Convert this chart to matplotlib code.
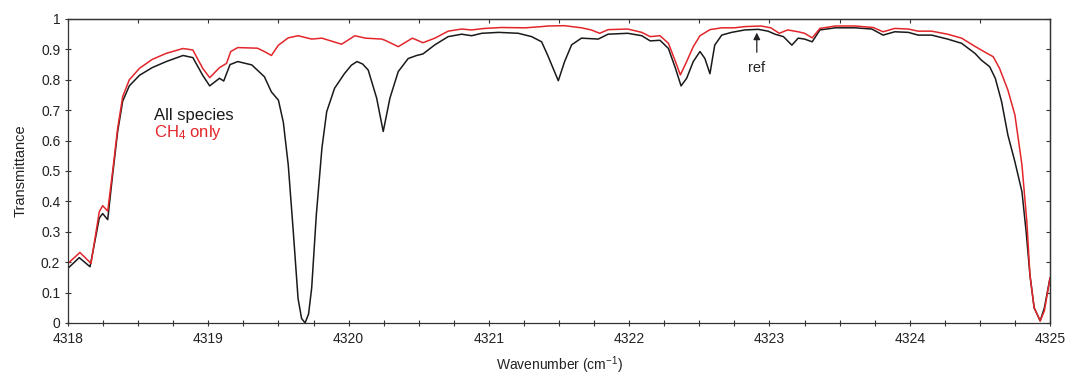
import matplotlib
matplotlib.use("Agg")
import matplotlib.pyplot as plt
from matplotlib.ticker import MultipleLocator, FuncFormatter


# wavenumber (cm-1) and transmittance
ALL_WN = [
    4318.00, 4318.08, 4318.157, 4318.223, 4318.247, 4318.283, 4318.318,
    4318.354, 4318.39, 4318.437, 4318.51, 4318.60, 4318.70, 4318.82,
    4318.89, 4318.96, 4319.01, 4319.08, 4319.11, 4319.155, 4319.21,
    4319.31, 4319.40, 4319.45, 4319.50, 4319.535, 4319.57, 4319.606,
    4319.64, 4319.665, 4319.69, 4319.715, 4319.737, 4319.77, 4319.81,
    4319.844, 4319.90, 4319.97, 4320.02, 4320.06, 4320.10, 4320.14,
    4320.20, 4320.247, 4320.295, 4320.354, 4320.425, 4320.485, 4320.53,
    4320.615, 4320.71, 4320.806, 4320.877, 4320.95, 4321.07, 4321.21,
    4321.305, 4321.376, 4321.42, 4321.447, 4321.495, 4321.54, 4321.59,
    4321.66, 4321.78, 4321.85, 4321.99, 4322.09, 4322.15, 4322.22,
    4322.28, 4322.33, 4322.37, 4322.41, 4322.457, 4322.505, 4322.54,
    4322.576, 4322.61, 4322.66, 4322.73, 4322.825, 4322.92, 4322.99,
    4323.04, 4323.10, 4323.16, 4323.205, 4323.25, 4323.305, 4323.36,
    4323.47, 4323.61, 4323.73, 4323.81, 4323.894, 4323.99, 4324.06,
    4324.156, 4324.27, 4324.37, 4324.465, 4324.51, 4324.57, 4324.61,
    4324.655, 4324.70, 4324.75, 4324.80, 4324.83, 4324.857, 4324.887,
    4324.93, 4324.96, 4325.00,
]
ALL_T = [
    0.18, 0.215, 0.185, 0.345, 0.36, 0.34, 0.487,
    0.63, 0.73, 0.78, 0.815, 0.84, 0.86, 0.88,
    0.873, 0.815, 0.78, 0.805, 0.796, 0.85, 0.86,
    0.849, 0.81, 0.76, 0.733, 0.66, 0.52, 0.30,
    0.08, 0.015, 0.0, 0.03, 0.115, 0.355, 0.575,
    0.695, 0.772, 0.82, 0.848, 0.86, 0.852, 0.832,
    0.74, 0.63, 0.74, 0.827, 0.87, 0.88, 0.885,
    0.915, 0.942, 0.95, 0.945, 0.953, 0.956, 0.953,
    0.942, 0.925, 0.88, 0.85, 0.797, 0.86, 0.915,
    0.937, 0.934, 0.95, 0.953, 0.945, 0.928, 0.93,
    0.903, 0.838, 0.78, 0.805, 0.86, 0.893, 0.87,
    0.82, 0.914, 0.947, 0.956, 0.964, 0.966, 0.96,
    0.95, 0.942, 0.914, 0.937, 0.934, 0.925, 0.964,
    0.971, 0.971, 0.967, 0.947, 0.958, 0.956, 0.947,
    0.947, 0.934, 0.92, 0.887, 0.865, 0.843, 0.805,
    0.728, 0.618, 0.53, 0.432, 0.30, 0.158, 0.05,
    0.007, 0.05, 0.148,
]

CH4_WN = [
    4318.00, 4318.085, 4318.164, 4318.223, 4318.247, 4318.283, 4318.318,
    4318.354, 4318.39, 4318.437, 4318.51, 4318.60, 4318.70, 4318.82,
    4318.89, 4318.96, 4319.01, 4319.08, 4319.13, 4319.16, 4319.21,
    4319.35, 4319.40, 4319.45, 4319.50, 4319.57, 4319.64, 4319.737,
    4319.81, 4319.95, 4320.045, 4320.12, 4320.235, 4320.26, 4320.354,
    4320.455, 4320.53, 4320.615, 4320.71, 4320.806, 4320.877, 4320.97,
    4321.09, 4321.26, 4321.376, 4321.42, 4321.54, 4321.66, 4321.73,
    4321.79, 4321.85, 4321.99, 4322.09, 4322.15, 4322.22, 4322.28,
    4322.33, 4322.365, 4322.41, 4322.457, 4322.505, 4322.576, 4322.66,
    4322.75, 4322.825, 4322.94, 4323.01, 4323.07, 4323.13, 4323.205,
    4323.25, 4323.305, 4323.36, 4323.47, 4323.61, 4323.74, 4323.81,
    4323.894, 4323.99, 4324.06, 4324.156, 4324.27, 4324.37, 4324.465,
    4324.54, 4324.595, 4324.64, 4324.70, 4324.75, 4324.80, 4324.835,
    4324.857, 4324.887, 4324.93, 4324.96, 4325.00,
]
CH4_T = [
    0.196, 0.232, 0.196, 0.366, 0.386, 0.368, 0.498,
    0.64, 0.745, 0.80, 0.838, 0.867, 0.887, 0.903,
    0.898, 0.838, 0.807, 0.84, 0.854, 0.893, 0.906,
    0.904, 0.893, 0.88, 0.914, 0.938, 0.945, 0.934,
    0.937, 0.917, 0.945, 0.937, 0.934, 0.93, 0.909,
    0.937, 0.922, 0.937, 0.96, 0.967, 0.964, 0.969,
    0.972, 0.971, 0.975, 0.977, 0.978, 0.971, 0.964,
    0.953, 0.965, 0.967, 0.956, 0.942, 0.945, 0.92,
    0.86, 0.816, 0.86, 0.909, 0.945, 0.965, 0.971,
    0.971, 0.975, 0.977, 0.971, 0.953, 0.964, 0.958,
    0.953, 0.938, 0.969, 0.977, 0.977, 0.972, 0.958,
    0.969, 0.967, 0.96, 0.96, 0.95, 0.937, 0.91,
    0.89, 0.876, 0.838, 0.766, 0.684, 0.52, 0.333,
    0.158, 0.05, 0.007, 0.04, 0.148,
]

SERIES_LABELS = ["All species", "CH$_4$ only"]
REF_WN = 4322.91

BLACK = "#1a1a1a"
RED = "#e3262b"

plt.rcParams["font.family"] = ["Liberation Sans", "DejaVu Sans"]
plt.rcParams["mathtext.fontset"] = "custom"
plt.rcParams["mathtext.rm"] = "Liberation Sans"
plt.rcParams["mathtext.default"] = "regular"

fig = plt.figure(figsize=(10.70, 3.76), dpi=100)
ax = fig.add_axes([68 / 1070, 1 - 323 / 376, 982 / 1070, 304 / 376])

ax.plot(ALL_WN, ALL_T, color=BLACK, lw=1.1)
ax.plot(CH4_WN, CH4_T, color=RED, lw=1.1)

ax.set_xlim(4318, 4325)
ax.set_ylim(0, 1)

# bottom / left ticks cross the axis line
ax.xaxis.set_major_locator(MultipleLocator(1))
ax.xaxis.set_minor_locator(MultipleLocator(0.25))
ax.yaxis.set_major_locator(MultipleLocator(0.1))
ax.yaxis.set_major_formatter(FuncFormatter(lambda v, p: "%g" % round(v, 1)))
ax.tick_params(axis="both", which="both", direction="inout", length=5,
               width=0.8, color="#333333", labelsize=10, labelcolor="#222222")
ax.tick_params(axis="x", which="major", pad=4)
ax.tick_params(axis="y", which="major", pad=3)

# top and right: inward ticks only
top = ax.secondary_xaxis("top")
top.xaxis.set_major_locator(MultipleLocator(0.5))
top.tick_params(direction="in", length=3, width=0.8, color="#333333",
                labeltop=False)
right = ax.secondary_yaxis("right")
right.yaxis.set_major_locator(MultipleLocator(0.1))
right.tick_params(direction="in", length=3, width=0.8, color="#333333",
                  labelright=False)

for sp in list(ax.spines.values()) + [top.spines["top"], right.spines["right"]]:
    sp.set_color("#333333")
    sp.set_linewidth(0.9)

ax.set_xlabel("Wavenumber (cm$^{-1}$)", fontsize=10, color="#222222")
ax.set_ylabel("Transmittance", fontsize=10.5, color="#222222")
ax.xaxis.set_label_coords(0.5, -0.102)
ax.yaxis.set_label_coords(-0.041, 0.5)

ax.text(4318.613, 0.684, SERIES_LABELS[0], color=BLACK, fontsize=12,
        ha="left", va="center")
ax.text(4318.613, 0.625, SERIES_LABELS[1], color=RED, fontsize=12,
        ha="left", va="center")

ax.annotate("ref", xy=(REF_WN, 0.955), xytext=(REF_WN, 0.84),
            ha="center", va="center", fontsize=10.5, color="#222222",
            arrowprops=dict(arrowstyle="-|>", color="#222222", lw=0.9,
                            mutation_scale=10, shrinkA=4, shrinkB=0))

fig.savefig("out.png", dpi=100)
